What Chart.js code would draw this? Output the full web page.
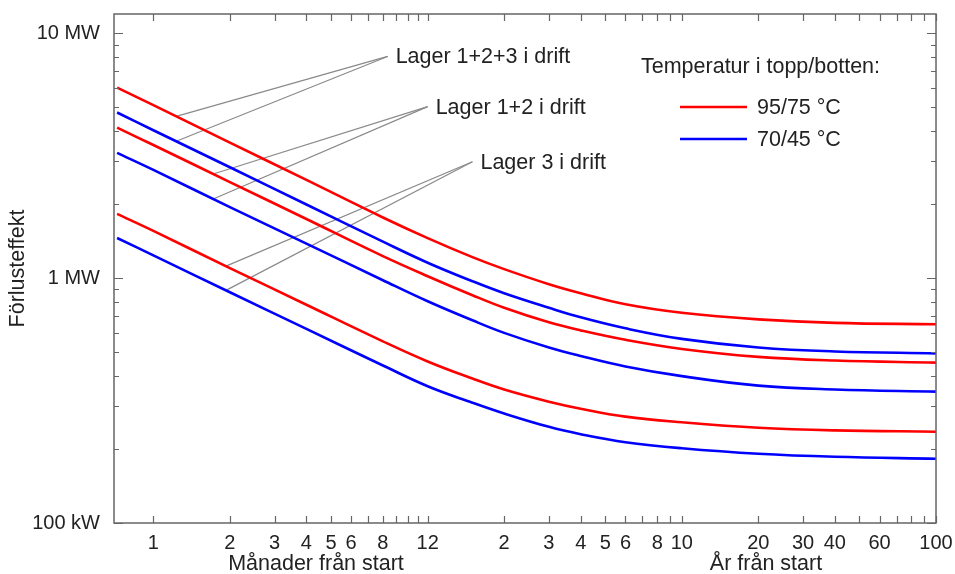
<!DOCTYPE html>
<html>
<head>
<meta charset="utf-8">
<script src="https://cdn.jsdelivr.net/npm/chart.js@4.4.0/dist/chart.umd.min.js"></script>
<style>
  html, body { margin: 0; padding: 0; background: #fff; }
  #wrap { width: 955px; height: 574px; }
</style>
</head>
<body>
<div id="wrap"><canvas id="lossChart"></canvas></div>
<script>
// time since start, in months (years are stored as 12*n)
var months = [0.72, 1, 2, 4, 8, 12, 18, 24, 36, 48, 72, 120, 240, 480, 1200];

// heat loss in MW for each storage combination and temperature
var red123  = [6.00, 5.09, 3.58, 2.52, 1.77, 1.458, 1.219, 1.089, 0.945, 0.868, 0.782, 0.722, 0.679, 0.657, 0.648];
var blue123 = [4.75, 4.02, 2.84, 2.00, 1.41, 1.157, 0.972, 0.868, 0.757, 0.692, 0.624, 0.565, 0.521, 0.502, 0.493];
var red12   = [4.12, 3.50, 2.47, 1.745, 1.231, 1.019, 0.852, 0.757, 0.660, 0.612, 0.560, 0.514, 0.477, 0.461, 0.452];
var blue12  = [3.25, 2.77, 1.95, 1.385, 0.981, 0.805, 0.673, 0.598, 0.521, 0.481, 0.436, 0.398, 0.364, 0.351, 0.344];
var red3    = [1.83, 1.56, 1.10, 0.779, 0.552, 0.457, 0.389, 0.351, 0.313, 0.293, 0.272, 0.258, 0.245, 0.239, 0.236];
var blue3   = [1.46, 1.24, 0.876, 0.621, 0.440, 0.362, 0.310, 0.280, 0.247, 0.2305, 0.2138, 0.2020, 0.1918, 0.1864, 0.1829];

// axis ticks
var monthTicks  = [1, 2, 3, 4, 5, 6, 7, 8, 9, 10, 11, 12];
var monthLabels = [1, 2, 3, 4, 5, 6, 8, 12];
var yearTicks   = [2, 3, 4, 5, 6, 7, 8, 9, 10, 20, 30, 40, 50, 60, 70, 80, 90, 100];
var yearLabels  = [2, 3, 4, 5, 6, 8, 10, 20, 30, 40, 60, 100];
var powerTicks  = [0.1, 0.2, 0.3, 0.4, 0.5, 0.6, 0.7, 0.8, 0.9, 1, 2, 3, 4, 5, 6, 7, 8, 9, 10];
var powerLabels = { '0.1': '100 kW', '1': '1 MW', '10': '10 MW' };

var RED = 'rgb(255,0,0)';
var BLUE = 'rgb(0,0,255)';
var FONT = '"Liberation Sans", Arial, Helvetica, sans-serif';
var TEXT = '#222';
var LABEL_FONT = '21.5px ' + FONT;

// label text, where its leader starts (months, MW), and which curves it points at
var notes = [
  { text: 'Lager 1+2+3 i drift', at: [8.35, 8.05], target: 1.23, series: [red123, blue123] },
  { text: 'Lager 1+2 i drift', at: [12, 5.02], target: 1.72, series: [red12, blue12] },
  { text: 'Lager 3 i drift', at: [18, 2.99], target: 1.93, series: [red3, blue3] }
];

var legendItems = [
  { label: '95/75 \u00B0C', color: RED },
  { label: '70/45 \u00B0C', color: BLUE }
];

function toPoints(series) {
  return months.map(function (m, i) { return { x: m, y: series[i] }; });
}

// log-log interpolation, used to find where the leaders touch a curve
function valueAt(series, m) {
  for (var i = 1; i < months.length; i++) {
    if (m <= months[i]) {
      var t = (Math.log(m) - Math.log(months[i - 1])) / (Math.log(months[i]) - Math.log(months[i - 1]));
      return Math.exp(Math.log(series[i - 1]) + t * (Math.log(series[i]) - Math.log(series[i - 1])));
    }
  }
  return series[series.length - 1];
}

function lineSet(series, color) {
  return {
    data: toPoints(series),
    borderColor: color,
    borderWidth: 2.6,
    pointRadius: 0,
    fill: false,
    tension: 0.4
  };
}

function noPadding(s) {
  s.paddingTop = 0; s.paddingBottom = 0; s.paddingLeft = 0; s.paddingRight = 0;
}

var xTickValues = monthTicks.concat(yearTicks.map(function (y) { return y * 12; }));

var decorations = {
  id: 'decorations',
  beforeDatasetsDraw: function (chart) {
    var ctx = chart.ctx, xs = chart.scales.x, ys = chart.scales.y;
    ctx.save();
    ctx.strokeStyle = '#8a8a8a';
    ctx.lineWidth = 1.2;
    ctx.font = LABEL_FONT;
    ctx.fillStyle = TEXT;
    ctx.textBaseline = 'middle';
    ctx.textAlign = 'left';
    notes.forEach(function (n) {
      var sx = xs.getPixelForValue(n.at[0]);
      var sy = ys.getPixelForValue(n.at[1]);
      n.series.forEach(function (s) {
        ctx.beginPath();
        ctx.moveTo(sx, sy);
        ctx.lineTo(xs.getPixelForValue(n.target), ys.getPixelForValue(valueAt(s, n.target)));
        ctx.stroke();
      });
      ctx.fillText(n.text, sx + 8, sy + 1);
    });
    ctx.restore();
  },
  afterDraw: function (chart) {
    var ctx = chart.ctx, a = chart.chartArea, xs = chart.scales.x, ys = chart.scales.y;
    ctx.save();
    // frame with inward ticks on all four sides
    ctx.strokeStyle = '#666';
    ctx.lineWidth = 1.5;
    ctx.strokeRect(a.left, a.top, a.right - a.left, a.bottom - a.top);
    ctx.lineWidth = 1.2;
    ctx.beginPath();
    xTickValues.forEach(function (v) {
      var px = Math.round(xs.getPixelForValue(v)) + 0.5;
      ctx.moveTo(px, a.bottom); ctx.lineTo(px, a.bottom - 7);
      ctx.moveTo(px, a.top); ctx.lineTo(px, a.top + 7);
    });
    powerTicks.forEach(function (v) {
      var py = Math.round(ys.getPixelForValue(v)) + 0.5;
      var len = powerLabels[String(v)] ? 9 : 5;
      ctx.moveTo(a.left, py); ctx.lineTo(a.left + len, py);
      ctx.moveTo(a.right, py); ctx.lineTo(a.right - len, py);
    });
    ctx.stroke();

    ctx.fillStyle = TEXT;
    ctx.font = LABEL_FONT;
    ctx.textAlign = 'center';
    ctx.textBaseline = 'middle';
    ctx.fillText('M\u00E5nader fr\u00E5n start', 316, 564);
    ctx.fillText('\u00C5r fr\u00E5n start', 766, 564);

    ctx.save();
    ctx.translate(18, (a.top + a.bottom) / 2);
    ctx.rotate(-Math.PI / 2);
    ctx.fillText('F\u00F6rlusteffekt', 0, 0);
    ctx.restore();

    // legend
    ctx.textAlign = 'left';
    ctx.fillText('Temperatur i topp/botten:', a.right - 295, a.top + 53);
    legendItems.forEach(function (it, i) {
      var y = a.top + 93 + i * 32;
      ctx.strokeStyle = it.color;
      ctx.lineWidth = 2.6;
      ctx.beginPath();
      ctx.moveTo(a.right - 256, y);
      ctx.lineTo(a.right - 189, y);
      ctx.stroke();
      ctx.fillText(it.label, a.right - 179, y + 1);
    });
    ctx.restore();
  }
};

var ctx = document.getElementById('lossChart').getContext('2d');
var chart = new Chart(ctx, {
  type: 'line',
  data: {
    datasets: [
      lineSet(red123, RED), lineSet(blue123, BLUE),
      lineSet(red12, RED), lineSet(blue12, BLUE),
      lineSet(red3, RED), lineSet(blue3, BLUE)
    ]
  },
  options: {
    responsive: true,
    maintainAspectRatio: false,
    animation: false,
    layout: { padding: { top: 14, right: 19, left: 0, bottom: 0 } },
    plugins: { legend: { display: false }, tooltip: { enabled: false } },
    scales: {
      x: {
        type: 'logarithmic',
        min: 0.72,
        max: 1200,
        grid: { display: false, drawTicks: false },
        border: { display: false },
        afterBuildTicks: function (s) {
          s.ticks = xTickValues.map(function (v) { return { value: v }; });
        },
        afterFit: function (s) { s.height = 51; noPadding(s); },
        ticks: {
          autoSkip: false,
          maxRotation: 0,
          padding: 8,
          color: TEXT,
          font: { family: FONT, size: 20 },
          callback: function (v) {
            if (v <= 12) return monthLabels.indexOf(v) >= 0 ? String(v) : '';
            var yr = Math.round(v / 12);
            return yearLabels.indexOf(yr) >= 0 ? String(yr) : '';
          }
        }
      },
      y: {
        type: 'logarithmic',
        min: 0.1,
        max: 12,
        grid: { display: false, drawTicks: false },
        border: { display: false },
        afterBuildTicks: function (s) {
          s.ticks = powerTicks.map(function (v) { return { value: v }; });
        },
        afterFit: function (s) { s.width = 114; noPadding(s); },
        ticks: {
          autoSkip: false,
          padding: 14,
          color: TEXT,
          font: { family: FONT, size: 20 },
          callback: function (v) { return powerLabels[String(v)] || ''; }
        }
      }
    }
  },
  plugins: [decorations]
});
</script>
</body>
</html>
